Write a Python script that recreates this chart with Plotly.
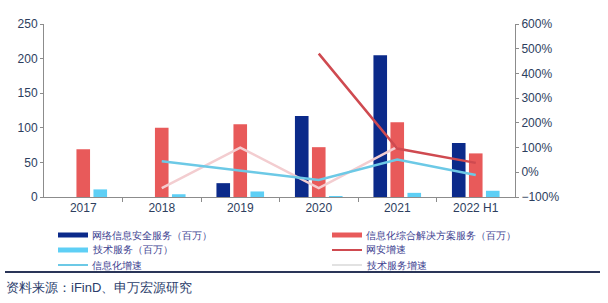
import plotly.graph_objects as go

categories = ["2017", "2018", "2019", "2020", "2021", "2022 H1"]
security = [0, 0, 20, 117, 205, 78]
integration = [69, 100, 105, 72, 108, 63]
tech = [11, 4, 8, 1, 6, 9]
security_growth = [None, None, None, 480, 96, 38]
integration_growth = [None, 45, 8, -31, 52, -11]
tech_growth = [None, -64, 100, -64, 103, None]

names = ["网络信息安全服务（百万）", "信息化综合解决方案服务（百万）", "技术服务（百万）",
         "网安增速", "信息化增速", "技术服务增速"]

C_NAVY = "#0b2a8a"
C_RED = "#e85a5a"
C_CYAN = "#5ecff5"
C_LRED = "#cf4a50"
C_LCYAN = "#6cc9e6"
C_PINK = "#f3cdd0"
TXT = "#2d3e5e"
LEG_TXT = "#3b408f"

W, H = 608, 303
ML, MR, MT, MB = 44, 93, 24, 106
PW, PH = W - ML - MR, H - MT - MB


def px(xp):
    return (xp - ML) / PW


def py(yp):
    return (H - MB - yp) / PH


x = list(range(len(categories)))

fig = go.Figure()
for vals, col in [(security, C_NAVY), (integration, C_RED), (tech, C_CYAN)]:
    fig.add_trace(go.Bar(x=x, y=vals, marker=dict(color=col, line=dict(width=0)),
                         showlegend=False))
fig.add_trace(go.Scatter(x=x, y=tech_growth, yaxis="y2", mode="lines",
                         line=dict(color=C_PINK, width=2.5), showlegend=False))
fig.add_trace(go.Scatter(x=x, y=integration_growth, yaxis="y2", mode="lines",
                         line=dict(color=C_LCYAN, width=2.5), showlegend=False))
fig.add_trace(go.Scatter(x=x, y=security_growth, yaxis="y2", mode="lines",
                         line=dict(color=C_LRED, width=2.5), showlegend=False))

# manual two-column legend
legend_items = [(names[0], C_NAVY, 5, 0, 0), (names[1], C_RED, 5, 1, 0),
                (names[2], C_CYAN, 5, 0, 1), (names[3], C_LRED, 2, 1, 1),
                (names[4], C_LCYAN, 2, 0, 2), (names[5], "#e2e2e2", 2, 1, 2)]
col_x = [58, 332]
row_y = [235, 250, 265]
shapes = []
annotations = []
for name, col, w, c, r in legend_items:
    x0 = col_x[c]
    yy = row_y[r]
    shapes.append(dict(type="line", xref="paper", yref="paper",
                       x0=px(x0), x1=px(x0 + 30), y0=py(yy), y1=py(yy),
                       line=dict(color=col, width=w)))
    annotations.append(dict(text=name, xref="paper", yref="paper",
                            x=px(x0 + 32), y=py(yy), xanchor="left", yanchor="middle",
                            showarrow=False, font=dict(size=10, color=LEG_TXT)))

shapes.append(dict(type="line", xref="paper", yref="paper", x0=px(5), x1=px(600),
                   y0=py(272), y1=py(272), line=dict(color="#2a3558", width=2)))
annotations.append(dict(text="资料来源：iFinD、申万宏源研究", xref="paper", yref="paper",
                        x=px(4), y=py(287), xanchor="left", yanchor="middle",
                        showarrow=False, font=dict(size=13, color="#2b3d6b")))

fig.update_layout(
    width=W, height=H,
    margin=dict(l=ML, r=MR, t=MT, b=MB, autoexpand=False),
    paper_bgcolor="white", plot_bgcolor="white",
    barmode="group", bargap=0.35, bargroupgap=0.2,
    showlegend=False,
    font=dict(family="Liberation Sans, Arial, sans-serif", color=TXT, size=12),
    xaxis=dict(range=[-0.5, 5.5], tickvals=x, ticktext=categories,
               showline=True, linecolor="#8c8c8c", linewidth=1, ticks="",
               showgrid=False, zeroline=False, tickfont=dict(size=12, color=TXT),
               minor=dict(tickvals=[0.5, 1.5, 2.5, 3.5, 4.5], ticks="outside",
                          ticklen=4, tickcolor="#8c8c8c")),
    yaxis=dict(range=[0, 250], dtick=50, showline=True, linecolor="#8c8c8c",
               ticks="outside", ticklen=3, tickcolor="#8c8c8c", showgrid=False,
               zeroline=False, tickfont=dict(size=12, color=TXT)),
    yaxis2=dict(range=[-100, 600], dtick=100, overlaying="y", side="right",
                showline=True, linecolor="#8c8c8c", ticks="outside", ticklen=3,
                tickcolor="#8c8c8c", showgrid=False, zeroline=False,
                ticksuffix="%", tickfont=dict(size=12, color=TXT)),
    shapes=shapes,
    annotations=annotations,
)

fig.write_html("out.html")
